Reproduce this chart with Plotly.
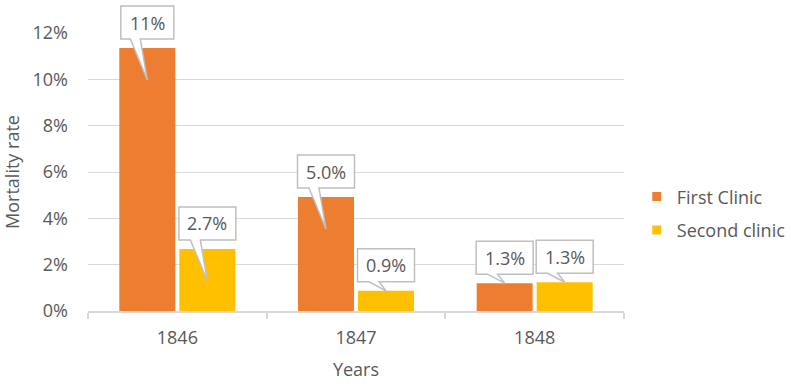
import plotly.graph_objects as go

# ---- data ----
years = ["1846", "1847", "1848"]
first_clinic = [0.1135, 0.0492, 0.0120]
second_clinic = [0.0268, 0.0087, 0.0124]
first_labels = ["11%", "5.0%", "1.3%"]
second_labels = ["2.7%", "0.9%", "1.3%"]
series_names = ["First Clinic", "Second clinic"]
y_ticks = [0, 0.02, 0.04, 0.06, 0.08, 0.10, 0.12]

# ---- style / layout constants ----
W, H = 791, 388
ML, MR, MT, MB = 88, 167, 33, 77
YMAX = 0.12
BARGAP = 0.328
GROUPGAP = 0.067
COLORS = ["#ED7D31", "#FFC000"]
TXT = "#595959"
GRID = "#D9D9D9"
FONT = "Open Sans, Segoe UI, sans-serif"
FS = 18

plot_w = W - ML - MR
plot_h = H - MT - MB
n_cat = len(years)
cat_px = plot_w / n_cat
slot_px = cat_px * (1 - BARGAP) / 2
px_per_unit = plot_h / YMAX

fig = go.Figure()
for name, vals, col in zip(series_names, [first_clinic, second_clinic], COLORS):
    fig.add_trace(go.Bar(x=years, y=vals, name=name, marker=dict(color=col, line=dict(width=0)),
                         showlegend=False, hoverinfo="skip"))
# legend proxies (small squares)
for name, col in zip(series_names, COLORS):
    fig.add_trace(go.Scatter(x=[None], y=[None], mode="markers", name=name, legendgroup=name,
                             marker=dict(symbol="square", size=9, color=col)))

shapes = []
annotations = []
for s_idx, (vals, labels) in enumerate([(first_clinic, first_labels), (second_clinic, second_labels)]):
    off = (-0.5 if s_idx == 0 else 0.5) * slot_px
    for i, (v, lab) in enumerate(zip(vals, labels)):
        xa = (i + 0.5) / n_cat          # category centre, paper fraction
        ya = v / YMAX                   # bar top, paper fraction
        bw = 53 if len(lab) <= 3 else 57
        bx0 = off - bw / 2
        bx1 = off + bw / 2
        by0, by1 = 9, 42
        bar_px = v * px_per_unit
        tip_dy = -min(32, max(0, bar_px - 30))
        tipx = off
        w0, w1 = off - 17, off - 7
        path = (f"M{bx0},{by0} L{w0},{by0} L{tipx},{tip_dy} L{w1},{by0} L{bx1},{by0} "
                f"L{bx1},{by1} L{bx0},{by1} Z")
        shapes.append(dict(type="path", xref="paper", yref="paper", xsizemode="pixel", ysizemode="pixel",
                           xanchor=xa, yanchor=ya, path=path, fillcolor="white",
                           line=dict(color="#BFBFBF", width=1.5), layer="above"))
        annotations.append(dict(x=xa, y=ya, xref="paper", yref="paper", text=lab, showarrow=False,
                                xanchor="center", yanchor="middle",
                                xshift=off, yshift=(by0 + by1) / 2,
                                font=dict(family=FONT, size=FS, color=TXT)))

fig.update_layout(
    width=W, height=H,
    margin=dict(l=ML, r=MR, t=MT, b=MB, autoexpand=False),
    paper_bgcolor="white", plot_bgcolor="white",
    barmode="group", bargap=BARGAP, bargroupgap=GROUPGAP,
    font=dict(family=FONT, size=FS, color=TXT),
    shapes=shapes, annotations=annotations,
    legend=dict(xref="container", yref="container", x=0.805, y=0.45, xanchor="left", yanchor="middle",
                font=dict(family=FONT, size=FS, color=TXT), tracegroupgap=7,
                itemwidth=30, bgcolor="rgba(0,0,0,0)"),
    showlegend=True,
)
fig.update_xaxes(type="category", range=[-0.5, n_cat - 0.5], autorange=False, automargin=False,
                 showline=True, linecolor=GRID, linewidth=1.5,
                 ticks="outside", tickson="boundaries", ticklen=6, tickcolor=GRID, tickwidth=1.5,
                 ticklabelstandoff=10,
                 showgrid=False, title=dict(text="Years", standoff=15,
                                            font=dict(family=FONT, size=FS, color=TXT)),
                 tickfont=dict(family=FONT, size=FS, color=TXT))
fig.update_yaxes(range=[0, YMAX], autorange=False, automargin=False, tickvals=y_ticks, tickformat=".0%",
                 showgrid=True, gridcolor=GRID, gridwidth=1, zeroline=False, showline=False,
                 ticks="", ticklabelstandoff=19,
                 title=dict(text="Mortality rate", standoff=15,
                            font=dict(family=FONT, size=FS, color=TXT)),
                 tickfont=dict(family=FONT, size=FS, color=TXT))

fig.write_html("out.html", config={"displayModeBar": False},
               post_script="document.body.style.margin='0';")
